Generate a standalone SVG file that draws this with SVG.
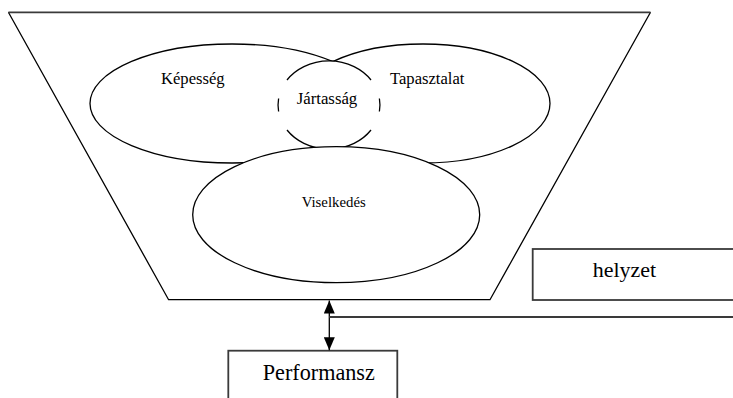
<svg xmlns="http://www.w3.org/2000/svg" width="733" height="398" viewBox="0 0 733 398">
<defs>
<style>
.ln{fill:none;stroke:#000;stroke-width:1.3}
.gr{fill:none;stroke:#3a3a3a;stroke-width:1.8}
.wf{fill:#fff;stroke:#000;stroke-width:1.3}
.t{font-family:"Liberation Serif","Times New Roman",serif;fill:#000}
</style>
<marker id="ah" viewBox="0 0 13 11" refX="13" refY="5.5" markerWidth="13" markerHeight="11" markerUnits="userSpaceOnUse" orient="auto-start-reverse">
<path d="M0,0 L13,5.5 L0,11 Z" fill="#000"/>
</marker>
</defs>
<rect width="733" height="398" fill="#fff"/>
<g id="funnel">
<path class="ln" d="M8.4,12.3 L168.6,299.7 L490,299.7 L650.5,12.3"/>
<line class="gr" x1="8.4" y1="12.3" x2="650.5" y2="12.3"/>
</g>
<g id="kepesseg">
<ellipse class="ln" cx="232" cy="103.5" rx="142" ry="59.5"/>
<text class="t" x="161" y="84" font-size="16.6">Képesség</text>
</g>
<g id="tapasztalat">
<ellipse class="ln" cx="423" cy="103.5" rx="127" ry="59.5"/>
<text class="t" x="390" y="84" font-size="16.6">Tapasztalat</text>
</g>
<g id="jartassag">
<ellipse cx="329" cy="105" rx="51" ry="44" fill="#fff"/>
<path class="ln" d="M287,80 A51,44 0 0,1 371,80 M287,130 A51,44 0 0,0 371,130 M278.6,98.5 A51,44 0 0,0 278.6,111.5 M379.4,98.5 A51,44 0 0,1 379.4,111.5"/>
<text class="t" x="296.7" y="104" font-size="16.8">Jártasság</text>
</g>
<g id="viselkedes">
<ellipse class="wf" cx="336.2" cy="214.7" rx="143.5" ry="68"/>
<text class="t" x="301.7" y="207.3" font-size="14.8">Viselkedés</text>
</g>
<g id="helyzet">
<rect class="gr" x="532.7" y="249" width="210" height="51"/>
<text class="t" x="592.7" y="276.7" font-size="22">helyzet</text>
</g>
<g id="performansz">
<rect class="gr" x="228.3" y="350.7" width="169" height="60"/>
<text class="t" x="262.7" y="380" font-size="22.2">Performansz</text>
</g>
<g id="connectors">
<line class="ln" x1="329.3" y1="300.5" x2="329.3" y2="350.2" marker-start="url(#ah)" marker-end="url(#ah)"/>
<line class="gr" x1="329.3" y1="317" x2="740" y2="317"/>
</g>
</svg>
